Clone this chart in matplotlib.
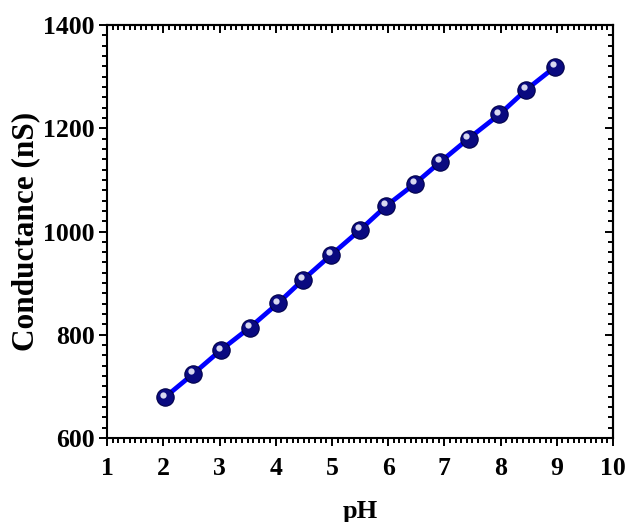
import matplotlib
matplotlib.use("Agg")
import matplotlib.pyplot as plt
from matplotlib.ticker import MultipleLocator
from matplotlib.transforms import ScaledTranslation

ph = [2.03, 2.53, 3.02, 3.54, 4.04, 4.49, 4.99, 5.50, 5.97, 6.48, 6.93, 7.43, 7.98, 8.46, 8.97]
conductance = [679, 724, 770, 814, 861, 907, 955, 1003, 1050, 1093, 1135, 1180, 1227, 1275, 1319]
xticks = [1, 2, 3, 4, 5, 6, 7, 8, 9, 10]
yticks = [600, 800, 1000, 1200, 1400]

plt.rcParams['font.family'] = ['Liberation Serif', 'DejaVu Serif']
plt.rcParams['font.weight'] = 'bold'

fig = plt.figure(figsize=(6.3, 5.22), dpi=100)
ax = fig.add_axes([0.170, 0.161, 0.803, 0.791])

ax.plot(ph, conductance, color='#0000FF', lw=3.4, zorder=2)
ax.plot(ph, conductance, ls='none', marker='o', ms=12.5, mfc='#0A0A80', mec='#00004A', mew=0.8, zorder=3)
off = ScaledTranslation(-1.5/72, 1.8/72, fig.dpi_scale_trans)
ax.plot(ph, conductance, ls='none', marker='o', ms=4.5, mfc='#D8D8F0', mec='none',
        transform=ax.transData + off, zorder=4)

ax.set_xlim(1, 10)
ax.set_ylim(600, 1400)
ax.set_xticks(xticks)
ax.set_yticks(yticks)
ax.xaxis.set_minor_locator(MultipleLocator(0.1))
ax.yaxis.set_minor_locator(MultipleLocator(20))

for s in ax.spines.values():
    s.set_linewidth(1.5)

ax.tick_params(which='both', width=1.4, labelsize=18.5)
ax.tick_params(which='major', length=6)
ax.tick_params(which='minor', length=3.5)
ax.tick_params(axis='both', which='both', direction='out', top=False, right=False)
ax.tick_params(axis='x', pad=8)
ax.tick_params(axis='y', pad=3)

# mirrored inward ticks on top and right
axt = ax.secondary_xaxis('top')
axt.set_xticks(xticks)
axt.xaxis.set_minor_locator(MultipleLocator(0.1))
axt.tick_params(which='both', direction='in', width=1.4, labeltop=False)
axt.tick_params(which='major', length=6)
axt.tick_params(which='minor', length=3.5)
axt.spines['top'].set_linewidth(1.5)
axr = ax.secondary_yaxis('right')
axr.set_yticks(yticks)
axr.yaxis.set_minor_locator(MultipleLocator(20))
axr.tick_params(which='both', direction='in', width=1.4, labelright=False)
axr.tick_params(which='major', length=6)
axr.tick_params(which='minor', length=3.5)
axr.spines['right'].set_linewidth(1.5)

for lab in ax.get_xticklabels() + ax.get_yticklabels():
    lab.set_fontweight('bold')

ax.set_xlabel('pH', fontsize=19, fontweight='bold', labelpad=14)
ax.set_ylabel('Conductance (nS)', fontsize=22.5, fontweight='bold', labelpad=2)

fig.savefig('out.png', dpi=100)
